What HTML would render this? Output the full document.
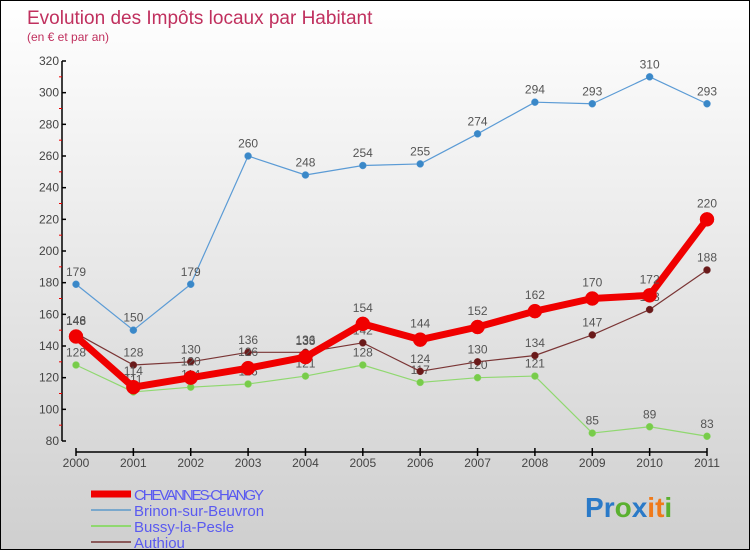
<!DOCTYPE html>
<html><head><meta charset="utf-8">
<style>
html,body{margin:0;padding:0;}
body{width:750px;height:550px;overflow:hidden;font-family:"Liberation Sans",sans-serif;}
#wrap{position:relative;width:748px;height:548px;border:1px solid #000;background:linear-gradient(#ffffff,#cfcfcf);}
svg{position:absolute;left:0;top:0;}
</style></head><body>
<div id="wrap">
<svg id="chart" width="750" height="550">
<text x="26" y="23" font-size="19" fill="#c0305e">Evolution des Impôts locaux par Habitant</text>
<text x="26" y="40" font-size="12" fill="#c0305e">(en € et par an)</text>
</svg>
</div>
<script>
const years = ["2000","2001","2002","2003","2004","2005","2006","2007","2008","2009","2010","2011"];
const chevannes = [146,114,120,126,133,154,144,152,162,170,172,220];
const brinon = [179,150,179,260,248,254,255,274,294,293,310,293];
const bussy = [128,111,114,116,121,128,117,120,121,85,89,83];
const authiou = [148,128,130,136,136,142,124,130,134,147,163,188];
const yTicks = [80,100,120,140,160,180,200,220,240,260,280,300,320];
const seriesNames = ["CHEVANNES-CHANGY","Brinon-sur-Beuvron","Bussy-la-Pesle","Authiou"];

const NS="http://www.w3.org/2000/svg";
const svg=document.getElementById('chart');
const x0=75,x1=706,yTop=60,yBot=440,vMin=80,vMax=320;
function xs(i){return x0+(x1-x0)*i/(years.length-1);}
function ys(v){return yBot-(v-vMin)*(yBot-yTop)/(vMax-vMin);}
function mk(tag,attrs,parent){const e=document.createElementNS(NS,tag);for(const k in attrs)e.setAttribute(k,attrs[k]);(parent||svg).appendChild(e);return e;}

// y axis
const yAxis=mk('g',{});


mk('line',{x1:61,y1:yTop,x2:61,y2:yBot,stroke:'#000','stroke-width':1.5},yAxis);
yTicks.forEach((t,i)=>{
  const y=ys(t);
  mk('line',{x1:61,y1:y,x2:65,y2:y,stroke:'#000','stroke-width':1.5},yAxis);
  if(i<yTicks.length-1) mk('line',{x1:58,y1:ys(t+10),x2:61,y2:ys(t+10),stroke:'#e00','stroke-width':1},yAxis);
  const tx=mk('text',{x:58,y:y+4,'font-size':12,fill:'#444','text-anchor':'end'},yAxis);
  
  
  tx.textContent=t;
});
// x axis
const xAxis=mk('g',{});


mk('line',{x1:x0,y1:451,x2:x1,y2:451,stroke:'#000','stroke-width':1.5},xAxis);
years.forEach((yr,i)=>{
  mk('line',{x1:xs(i),y1:447,x2:xs(i),y2:455,stroke:'#000','stroke-width':1.5},xAxis);
  const tx=mk('text',{x:xs(i),y:466,'font-size':12,fill:'#444','text-anchor':'middle'},xAxis);
  
  
  tx.textContent=yr;
});

function series(data,color,sw,r,name,dotColor){
  const g=mk('g',{});
  
  
  mk('polyline',{points:data.map((v,i)=>xs(i)+','+ys(v)).join(' '),fill:'none',stroke:color,'stroke-width':sw,'stroke-linejoin':'round'},g);
  data.forEach((v,i)=>{
    const c=mk('circle',{cx:xs(i),cy:ys(v),r:r,fill:dotColor,stroke:color,'stroke-width':0.5},g);
    
    
    const t=mk('text',{x:xs(i),y:ys(v)-r-5,'font-size':12,fill:'#555','text-anchor':'middle'},g);
    
    
    t.textContent=v;
  });
}
series(brinon,'#5b9bd5',1.2,3.5,'series-brinon','#3a88c8');
series(bussy,'#90d870',1.2,3.5,'series-bussy','#78cc4a');
series(authiou,'#7a3535',1.2,3.5,'series-authiou','#6a1a1a');
series(chevannes,'#f00000',7,7,'series-chevannes','#f00000');

// legend
const leg=mk('g',{});


const legColors=['#f00000','#7aa8cc','#90d870','#8a5a5a'];
const legW=[7,2,2,2];
seriesNames.forEach((n,i)=>{
  const y=493+i*16;
  const e=mk('g',{},leg);
  
  
  mk('line',{x1:90,y1:y,x2:130,y2:y,stroke:legColors[i],'stroke-width':legW[i]},e);
  const t=mk('text',{x:133,y:y+6,'font-size':15,fill:'#5a5af0','textLength':i==0?130:0},e);
  if(i!=0)t.removeAttribute('textLength');
  t.textContent=n;
});
// logo
const logo=mk('text',{x:584,y:516,'font-size':28,'font-weight':'bold'});


[['P','#2a7ac8'],['r','#2a7ac8'],['o','#5ab030'],['x','#2a7ac8'],['i','#f07a1a'],['t','#f07a1a'],['i','#5ab030']].forEach(([c,col])=>{
  const s=document.createElementNS(NS,'tspan');s.setAttribute('fill',col);s.textContent=c;logo.appendChild(s);
});
</script>
</body></html>
